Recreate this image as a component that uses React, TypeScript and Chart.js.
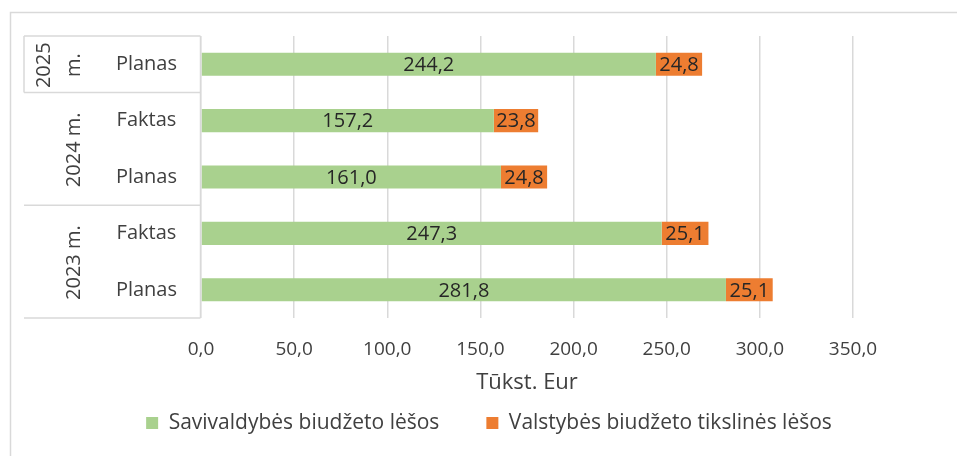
import React, { useEffect, useRef } from "react";
import { Chart, registerables } from "chart.js";

Chart.register(...registerables);

// Categories listed from bottom to top
const categories = ["Planas", "Faktas", "Planas", "Faktas", "Planas"];
const yearGroups = ["2023 m.", "2023 m.", "2024 m.", "2024 m.", "2025 m."];
const municipalFunds = [281.8, 247.3, 161.0, 157.2, 244.2];
const stateFunds = [25.1, 25.1, 24.8, 23.8, 24.8];
const seriesNames = ["Savivaldybės biudžeto lėšos", "Valstybės biudžeto tikslinės lėšos"];
const seriesColors = ["#A9D18E", "#ED7D31"];
const xMin = 0;
const xMax = 350;
const xStep = 50;
const axisTitle = "Tūkst. Eur";

const FONT = "'Open Sans', 'Noto Sans', sans-serif";
const LINE = "#D9D9D9";
const TEXT = "#404040";

const fmt = (v: number) => v.toFixed(1).replace(".", ",");

const decorPlugin = {
  id: "decor",
  beforeDraw(chart: any) {
    const ctx = chart.ctx;
    ctx.save();
    ctx.strokeStyle = LINE;
    ctx.lineWidth = 1.5;
    ctx.strokeRect(10.5, 12.5, 2000, 2000);
    ctx.restore();
  },
  afterDraw(chart: any) {
    const ctx = chart.ctx;
    const y = chart.scales.y;
    const area = chart.chartArea;
    const boxLeft = 24;
    const axisX = area.left - 0.5;
    const groups: { label: string; start: number; end: number }[] = [];
    yearGroups.forEach((g, i) => {
      const last = groups[groups.length - 1];
      if (last && last.label === g) last.end = i;
      else groups.push({ label: g, start: i, end: i });
    });
    const half = Math.abs(y.getPixelForValue(1) - y.getPixelForValue(0)) / 2;
    ctx.save();
    ctx.strokeStyle = LINE;
    ctx.lineWidth = 1.5;
    ctx.beginPath();
    ctx.moveTo(axisX, area.top);
    ctx.lineTo(axisX, area.bottom);
    groups.forEach((gr) => {
      const yb = y.getPixelForValue(gr.start) + half;
      const yt = y.getPixelForValue(gr.end) - half;
      ctx.moveTo(boxLeft, yb);
      ctx.lineTo(axisX, yb);
      ctx.moveTo(boxLeft, yt);
      ctx.lineTo(axisX, yt);
      if (gr.start === gr.end) {
        ctx.moveTo(boxLeft, yt);
        ctx.lineTo(boxLeft, yb);
      }
    });
    ctx.stroke();

    ctx.fillStyle = TEXT;
    ctx.font = `20px ${FONT}`;
    ctx.textAlign = "center";
    ctx.textBaseline = "alphabetic";
    groups.forEach((gr) => {
      const yb = y.getPixelForValue(gr.start) + half;
      const yt = y.getPixelForValue(gr.end) - half;
      const cy = (yb + yt) / 2;
      const lines = gr.start === gr.end ? gr.label.split(" ") : [gr.label];
      const baselines = lines.length === 2 ? [50, 80] : [80];
      lines.forEach((ln, k) => {
        ctx.save();
        ctx.translate(baselines[k], cy + 1);
        ctx.rotate(-Math.PI / 2);
        ctx.fillText(ln, 0, 0);
        ctx.restore();
      });
    });
    ctx.restore();
  },
  afterDatasetsDraw(chart: any) {
    const ctx = chart.ctx;
    ctx.save();
    ctx.font = `20px ${FONT}`;
    ctx.fillStyle = "#262626";
    ctx.textAlign = "center";
    ctx.textBaseline = "middle";
    chart.data.datasets.forEach((ds: any, di: number) => {
      const meta = chart.getDatasetMeta(di);
      meta.data.forEach((el: any, i: number) => {
        const cx = (el.x + el.base) / 2;
        ctx.fillText(fmt(ds.data[i]), cx, el.y + 1);
      });
    });
    ctx.restore();
  },
};

export default function App() {
  const ref = useRef<HTMLCanvasElement | null>(null);
  useEffect(() => {
    if (!ref.current) return;
    const chart = new Chart(ref.current, {
      type: "bar",
      data: {
        labels: categories,
        datasets: [
          {
            label: seriesNames[0],
            data: municipalFunds,
            backgroundColor: seriesColors[0],
            barPercentage: 0.41,
            categoryPercentage: 1,
          },
          {
            label: seriesNames[1],
            data: stateFunds,
            backgroundColor: seriesColors[1],
            barPercentage: 0.41,
            categoryPercentage: 1,
          },
        ],
      },
      options: {
        indexAxis: "y",
        responsive: false,
        animation: false,
        layout: { padding: { left: 21, right: 0, top: 36, bottom: 12.5 } },
        plugins: {
          tooltip: { enabled: false },
          legend: {
            position: "bottom",
            labels: {
              boxWidth: 12,
              boxHeight: 12,
              padding: 47,
              color: TEXT,
              font: { family: FONT, size: 21 },
            },
          },
        },
        scales: {
          x: {
            stacked: true,
            min: xMin,
            max: xMax,
            ticks: {
              stepSize: xStep,
              color: TEXT,
              padding: 20.6,
              font: { family: FONT, size: 19 },
              callback: (v: any) => fmt(Number(v)),
            },
            grid: { color: LINE, lineWidth: 1.5, drawTicks: false },
            border: { display: false },
            title: {
              display: true,
              text: axisTitle,
              color: TEXT,
              font: { family: FONT, size: 22 },
              padding: { top: 0, bottom: -30.7 },
            },
            afterFit: (s: any) => {
              s.height = 47.5;
            },
          },
          y: {
            stacked: true,
            reverse: true,
            ticks: {
              color: TEXT,
              padding: 24,
              crossAlign: "center",
              font: { family: FONT, size: 20 },
            },
            grid: { display: false, drawTicks: false },
            border: { display: false },
            afterFit: (s: any) => {
              s.width = 180;
            },
          },
          yRight: {
            type: "linear",
            position: "right",
            display: true,
            ticks: { display: false },
            grid: { display: false, drawTicks: false },
            border: { display: false },
            afterFit: (s: any) => {
              s.width = 104;
            },
          },
        },
      },
      plugins: [decorPlugin],
    });
    return () => chart.destroy();
  }, []);
  return (
    <div style={{ position: "fixed", left: 0, top: 0, width: 957, height: 456, background: "#fff" }}>
      <canvas ref={ref} width={957} height={456} style={{ display: "block" }} />
    </div>
  );
}
